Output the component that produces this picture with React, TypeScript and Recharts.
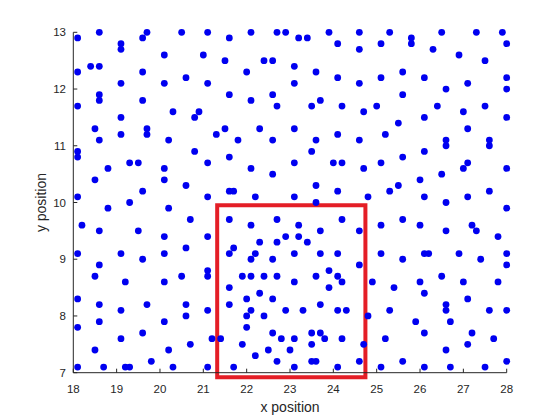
import React from 'react';
import { ScatterChart, Scatter, XAxis, YAxis, ReferenceArea } from 'recharts';

// point positions, grouped by area [x, y]
const upperLeft: [number, number][] = [
  [18.6, 13.0], [19.7, 13.0], [20.5, 13.0], [21.1, 13.0],
  [18.1, 12.9], [19.6, 12.9], [19.1, 12.8], [19.1, 12.7],
  [20.1, 12.6], [21.0, 12.6], [18.4, 12.4], [18.6, 12.4],
  [18.1, 12.3], [19.6, 12.3], [20.6, 12.2],
  [19.1, 12.1], [20.1, 12.1], [21.1, 12.1],
  [18.6, 11.9], [18.6, 11.8], [19.6, 11.8], [18.1, 11.7],
  [20.3, 11.6], [20.9, 11.6], [20.8, 11.5], [19.1, 11.5],
  [18.5, 11.3], [19.7, 11.3], [19.7, 11.2], [19.1, 11.2], [21.3, 11.2],
  [18.6, 11.1], [20.2, 11.1],
  [18.1, 10.9], [18.1, 10.8], [20.8, 10.9],
  [19.3, 10.7], [19.5, 10.7], [21.1, 10.7],
  [18.8, 10.6], [20.1, 10.6], [18.5, 10.4], [20.1, 10.4],
  [20.6, 10.3], [19.6, 10.2], [18.1, 10.1], [21.1, 10.1], [19.3, 10.0],
];

const upperMiddle: [number, number][] = [
  [21.6, 12.9], [22.1, 13.0], [22.7, 13.0], [22.9, 13.0], [23.2, 12.9], [23.4, 12.9], [23.9, 13.0], [24.6, 13.0],
  [24.1, 12.8], [24.6, 12.7],
  [21.5, 12.5], [22.4, 12.5], [22.6, 12.5], [23.1, 12.4],
  [22.0, 12.3], [23.6, 12.3], [24.1, 12.2], [23.1, 12.1], [24.6, 12.1],
  [21.6, 11.9], [22.6, 11.9], [22.1, 11.8], [23.7, 11.8],
  [22.7, 11.7], [23.5, 11.7], [24.2, 11.7], [24.7, 11.6],
  [21.5, 11.3], [22.3, 11.3], [23.1, 11.3], [24.1, 11.2],
  [21.8, 11.1], [22.6, 11.1], [23.6, 11.1], [24.6, 11.1],
  [23.5, 10.9], [21.6, 10.8],
  [23.1, 10.7], [24.0, 10.7], [24.2, 10.7], [22.1, 10.6], [24.7, 10.6],
  [22.6, 10.5], [23.6, 10.3],
  [21.6, 10.2], [21.7, 10.2], [24.1, 10.2], [22.2, 10.1], [23.1, 10.1], [23.6, 10.0],
];

const upperRight: [number, number][] = [
  [25.3, 13.0], [26.5, 13.0], [27.3, 13.0], [27.9, 13.0],
  [25.1, 12.8], [25.8, 12.9], [25.8, 12.8], [28.0, 12.8],
  [26.3, 12.7], [26.9, 12.6], [27.5, 12.5], [25.6, 12.3],
  [25.1, 12.2], [26.1, 12.2], [28.0, 12.2],
  [26.6, 12.0], [27.1, 12.1], [28.0, 12.0], [25.6, 11.9],
  [25.0, 11.7], [26.4, 11.7], [27.5, 11.7], [27.0, 11.6],
  [26.1, 11.5], [28.0, 11.5], [25.5, 11.4], [27.1, 11.3], [25.2, 11.2],
  [26.6, 11.1], [26.6, 11.0], [27.6, 11.1], [27.6, 11.0],
  [26.1, 10.9], [25.6, 10.8],
  [25.1, 10.7], [27.1, 10.7], [27.0, 10.6], [28.0, 10.6],
  [26.5, 10.5], [26.0, 10.4], [25.5, 10.3], [25.3, 10.2], [27.6, 10.2],
  [24.8, 10.1], [26.1, 10.1], [27.1, 10.1], [26.6, 10.0],
];

const lowerLeft: [number, number][] = [
  [18.8, 9.9], [20.2, 9.9], [20.7, 9.7],
  [18.2, 9.6], [18.6, 9.5], [19.5, 9.5], [20.1, 9.4], [21.1, 9.4],
  [20.6, 9.2], [18.1, 9.1], [19.1, 9.1], [20.1, 9.1], [19.6, 9.0], [18.6, 8.9],
  [21.1, 8.8], [18.5, 8.7], [20.5, 8.7], [21.1, 8.7], [19.2, 8.6], [20.1, 8.6],
  [18.1, 8.3], [18.6, 8.2], [19.7, 8.2], [20.6, 8.2], [19.1, 8.1], [21.1, 8.1],
  [20.6, 8.0], [18.1, 7.8], [18.6, 7.9], [20.1, 7.9], [19.6, 7.7],
  [19.1, 7.6], [21.2, 7.6], [20.7, 7.5], [18.5, 7.4], [20.2, 7.4], [19.8, 7.2],
  [18.1, 7.1], [18.7, 7.1], [19.2, 7.1], [19.3, 7.1], [20.3, 7.1], [21.1, 7.1],
];

const lowerMiddle: [number, number][] = [
  [21.6, 9.7], [22.1, 9.6], [22.7, 9.7], [23.2, 9.6], [24.2, 9.7],
  [23.7, 9.5], [24.6, 9.5], [22.9, 9.4], [23.2, 9.4],
  [22.3, 9.3], [22.7, 9.3], [23.4, 9.3],
  [21.7, 9.2], [21.6, 9.1], [22.2, 9.1], [22.1, 9.0], [22.6, 9.0], [23.1, 9.1], [23.7, 9.1], [24.1, 9.1],
  [24.6, 8.9], [23.9, 8.8],
  [21.9, 8.7], [22.1, 8.7], [22.4, 8.7], [22.7, 8.7], [23.6, 8.7], [24.1, 8.7], [24.2, 8.6],
  [23.1, 8.6], [21.6, 8.5], [23.9, 8.5], [22.3, 8.4], [22.0, 8.3], [22.6, 8.3],
  [21.6, 8.2], [23.7, 8.2],
  [22.1, 8.1], [22.9, 8.1], [23.3, 8.1], [24.1, 8.1], [24.3, 8.1],
  [22.0, 8.0], [22.4, 8.0], [22.0, 7.8],
  [22.6, 7.7], [23.5, 7.7], [23.7, 7.7],
  [21.4, 7.6], [22.8, 7.6], [23.1, 7.6], [23.8, 7.6], [24.2, 7.6],
  [21.9, 7.5], [23.5, 7.5], [24.7, 7.5], [22.5, 7.4], [23.0, 7.4], [22.2, 7.3],
  [22.7, 7.2], [23.5, 7.2], [23.6, 7.2], [24.6, 7.2],
  [21.7, 7.1], [23.1, 7.1], [24.1, 7.1],
];

const lowerRight: [number, number][] = [
  [28.0, 9.9],
  [25.1, 9.6], [25.6, 9.7], [26.0, 9.6], [26.6, 9.5], [27.2, 9.6], [27.3, 9.5], [27.8, 9.4],
  [25.1, 9.1], [25.6, 9.0], [26.1, 9.1], [26.2, 9.1], [26.9, 9.1], [27.4, 9.0], [28.0, 9.1], [28.0, 8.9],
  [24.9, 8.6], [25.4, 8.5], [26.0, 8.6], [26.5, 8.7], [27.0, 8.6], [27.8, 8.6],
  [26.1, 8.4], [27.1, 8.3],
  [26.6, 8.2], [26.6, 8.1], [25.3, 8.1], [27.6, 8.1], [28.0, 8.1], [24.8, 8.0],
  [25.9, 7.9], [26.7, 7.9], [26.1, 7.7], [27.2, 7.7], [25.2, 7.6], [27.7, 7.6],
  [27.1, 7.5], [26.6, 7.4], [25.6, 7.2], [28.0, 7.2],
  [25.1, 7.1], [26.1, 7.1], [26.7, 7.1], [27.5, 7.1],
];

const xTicks = [18, 19, 20, 21, 22, 23, 24, 25, 26, 27, 28];
const yTicks = [7, 8, 9, 10, 11, 12, 13];
const boxX = [21.32, 24.74];
const boxY = [6.92, 9.95];

const points = [...upperLeft, ...upperMiddle, ...upperRight, ...lowerLeft, ...lowerMiddle, ...lowerRight].map(
  ([x, y]) => ({ x, y })
);

const axisColor = '#262626';

const Dot = (props: any) => <circle cx={props.cx} cy={props.cy} r={3.4} fill="#0000f0" />;

export default function App() {
  return (
    <div
      style={{
        position: 'absolute',
        left: 0,
        top: 0,
        width: 560,
        height: 420,
        background: '#fff',
        fontFamily: '"Liberation Sans", Arial, sans-serif',
      }}
    >
      <ScatterChart width={560} height={420} margin={{ top: 32.3, right: 53.3, bottom: 0, left: 0 }}>
        <XAxis
          type="number"
          dataKey="x"
          domain={[18, 28]}
          ticks={xTicks}
          height={47.3}
          tickSize={-4}
          tickMargin={16.4}
          stroke={axisColor}
          tick={{ fill: axisColor, fontSize: 11.5 }}
          label={{ value: 'x position', position: 'insideBottom', offset: 8, fill: axisColor, fontSize: 14 }}
        />
        <YAxis
          type="number"
          dataKey="y"
          domain={[7, 13]}
          ticks={yTicks}
          width={73.3}
          tickSize={-4}
          tickMargin={11.3}
          stroke={axisColor}
          tick={{ fill: axisColor, fontSize: 11.5 }}
          label={{
            value: 'y position',
            angle: -90,
            position: 'insideLeft',
            offset: 40.9,
            fill: axisColor,
            fontSize: 14,
            style: { textAnchor: 'middle' },
          }}
        />
        <Scatter data={points} shape={Dot} isAnimationActive={false} />
        <ReferenceArea
          x1={boxX[0]}
          x2={boxX[1]}
          y1={boxY[0]}
          y2={boxY[1]}
          fill="none"
          stroke="#e41e26"
          strokeWidth={4}
          ifOverflow="visible"
        />
      </ScatterChart>
    </div>
  );
}
